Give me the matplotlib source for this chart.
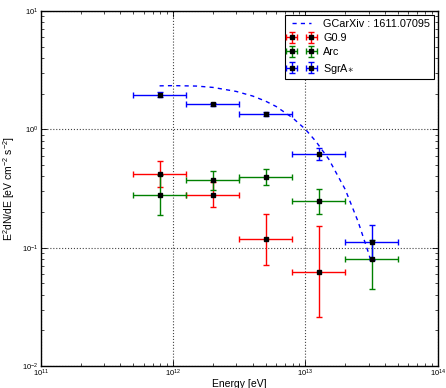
import matplotlib
matplotlib.use("Agg")
import matplotlib.pyplot as plt
import numpy as np
from matplotlib.ticker import LogLocator, NullFormatter

plt.rcParams['font.family'] = ['Liberation Sans', 'DejaVu Sans']
plt.rcParams['mathtext.fontset'] = 'custom'
plt.rcParams['mathtext.rm'] = 'Liberation Sans'
plt.rcParams['mathtext.it'] = 'Liberation Sans:italic'

# Energy bins (log10 of eV): centres and edges
log_e = [11.9, 12.3, 12.7, 13.1, 13.5]
log_lo = [11.7, 12.1, 12.5, 12.9, 13.3]
log_hi = [12.1, 12.5, 12.9, 13.3, 13.7]

# G0.9
g09_e_idx = [0, 1, 2, 3]
g09_y = [0.418, 0.280, 0.118, 0.0628]
g09_lo = [0.327, 0.221, 0.071, 0.0259]
g09_hi = [0.535, 0.360, 0.194, 0.152]

# Arc
arc_e_idx = [0, 1, 2, 3, 4]
arc_y = [0.279, 0.372, 0.396, 0.247, 0.080]
arc_lo = [0.190, 0.310, 0.340, 0.194, 0.045]
arc_hi = [0.410, 0.445, 0.466, 0.314, 0.115]

# SgrA*
sgra_e_idx = [0, 1, 2, 3, 4]
sgra_y = [1.96, 1.63, 1.36, 0.62, 0.112]
sgra_lo = [1.86, 1.58, 1.30, 0.55, 0.078]
sgra_hi = [2.05, 1.68, 1.40, 0.69, 0.154]

# Model curve (GCarXiv : 1611.07095)
model_e_tev = [0.79, 1.0, 1.5, 2.0, 3.0, 4.0, 5.0, 6.0, 8.0, 10.0, 12.0, 15.0, 20.0, 25.0, 30.0, 31.6]
model_y = [2.33, 2.34, 2.32, 2.26, 2.09, 1.91, 1.73, 1.56, 1.25, 1.00, 0.79, 0.56, 0.31, 0.166, 0.090, 0.074]

fig = plt.figure(figsize=(4.46, 3.88), dpi=100)
ax = fig.add_axes([0.0915, 0.0567, 0.8900, 0.9150])

ax.plot(np.array(model_e_tev) * 1e12, model_y, ls='--', color='blue', lw=1.0,
        dashes=(3, 3), label='GCarXiv : 1611.07095')

def draw(idx, y, lo, hi, color, label):
    e = np.array([10 ** log_e[i] for i in idx])
    elo = np.array([10 ** log_lo[i] for i in idx])
    ehi = np.array([10 ** log_hi[i] for i in idx])
    y = np.array(y)
    yerr = [y - np.array(lo), np.array(hi) - y]
    xerr = [e - elo, ehi - e]
    ax.errorbar(e, y, xerr=xerr, yerr=yerr, fmt='s', color=color, ecolor=color,
                mfc='black', mec='black', ms=2.5, elinewidth=1.0, capsize=2,
                capthick=1.0, label=label)

draw(g09_e_idx, g09_y, g09_lo, g09_hi, 'red', 'G0.9')
draw(arc_e_idx, arc_y, arc_lo, arc_hi, 'green', 'Arc')
draw(sgra_e_idx, sgra_y, sgra_lo, sgra_hi, 'blue', r'SgrA$\ast$')

ax.set_xscale('log')
ax.set_yscale('log')
ax.set_xlim(1e11, 1e14)
ax.set_ylim(1e-2, 1e1)
ax.xaxis.set_major_locator(LogLocator(base=10, numticks=10))
ax.yaxis.set_major_locator(LogLocator(base=10, numticks=10))
ax.xaxis.set_minor_locator(LogLocator(base=10, subs=np.arange(2, 10), numticks=20))
ax.yaxis.set_minor_locator(LogLocator(base=10, subs=np.arange(2, 10), numticks=20))
ax.xaxis.set_minor_formatter(NullFormatter())
ax.yaxis.set_minor_formatter(NullFormatter())
ax.tick_params(which='both', direction='in', top=True, right=True, labelsize=5.5)
ax.tick_params(axis='x', which='major', pad=1.5)
ax.tick_params(axis='y', which='major', pad=2)
ax.tick_params(which='major', length=4, width=0.6)
ax.tick_params(which='minor', length=2, width=0.5)
ax.grid(True, which='major', ls=':', color='#444444', lw=0.8)
for s in ax.spines.values():
    s.set_linewidth(1.0)

ax.set_xlabel('Energy [eV]', fontsize=7.5, labelpad=0)
ax.set_ylabel(r'E$^2$dN/dE [eV cm$^{-2}$ s$^{-2}$]', fontsize=7.5, labelpad=3)

leg = ax.legend(loc='upper right', fontsize=7.8, numpoints=2, fancybox=False,
                framealpha=1, edgecolor='black', handlelength=2.4,
                borderpad=0.35, labelspacing=0.4, borderaxespad=0.35,
                handletextpad=0.8)
leg.get_frame().set_linewidth(0.8)

fig.savefig('out.png', dpi=100)
